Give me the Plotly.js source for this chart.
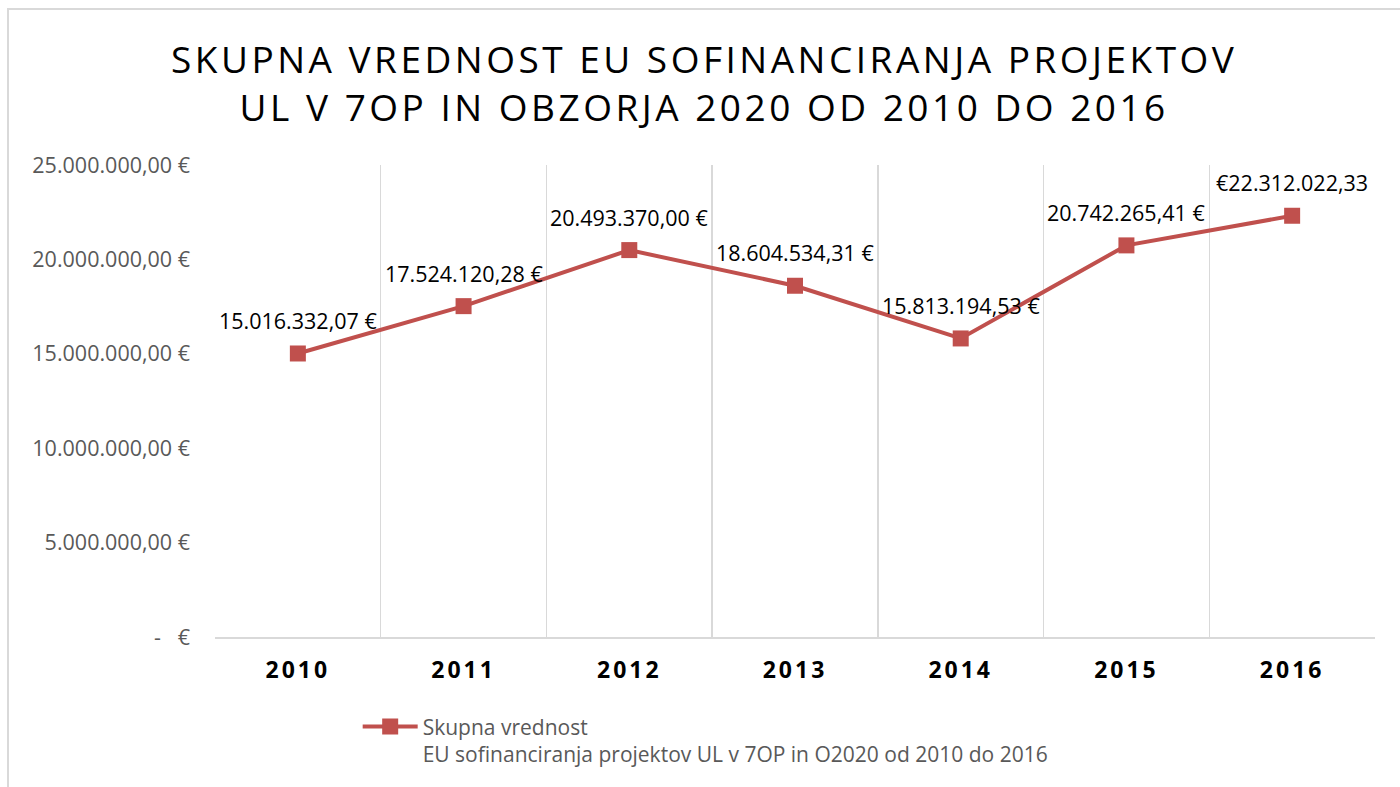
<!DOCTYPE html>
<html>
<head>
<meta charset="utf-8">
<script src="https://cdn.plot.ly/plotly-3.0.1.min.js"></script>
<style>
  html, body { margin: 0; padding: 0; background: #ffffff; }
  #frame { position: absolute; left: 7px; top: 8px; width: 1500px; height: 900px;
           border-left: 2px solid #d9d9d9; border-top: 2px solid #d9d9d9; }
  #chart { position: absolute; left: 0; top: 0; width: 1400px; height: 787px; }
  .gtitle { letter-spacing: 3.5px; }
  .xtick text { letter-spacing: 3px; }
</style>
</head>
<body>
<div id="frame"></div>
<div id="chart"></div>
<script>
const years = ['2010', '2011', '2012', '2013', '2014', '2015', '2016'];
const values = [15016332.07, 17524120.28, 20493370.00, 18604534.31, 15813194.53, 20742265.41, 22312022.33];
const valueLabels = ['15.016.332,07 €', '17.524.120,28 €', '20.493.370,00 €', '18.604.534,31 €', '15.813.194,53 €', '20.742.265,41 €', '€22.312.022,33'];
const yTickVals = [0, 5000000, 10000000, 15000000, 20000000, 25000000];
const yTickText = ['-\u00a0\u00a0\u00a0€', '5.000.000,00 €', '10.000.000,00 €', '15.000.000,00 €', '20.000.000,00 €', '25.000.000,00 €'];
const seriesName = 'Skupna vrednost<br>EU sofinanciranja projektov UL v 7OP in O2020 od 2010 do 2016';
const titleText = 'SKUPNA VREDNOST EU SOFINANCIRANJA PROJEKTOV<br>UL V 7OP IN OBZORJA 2020 OD 2010 DO 2016';

const lineColor = '#c0504d';
const fontFamily = '"Open Sans", sans-serif';

const trace = {
  type: 'scatter',
  mode: 'lines+markers',
  x: years,
  y: values,
  name: seriesName,
  line: { color: lineColor, width: 4 },
  marker: { symbol: 'square', size: 16, color: lineColor },
  showlegend: true,
  hoverinfo: 'skip'
};

// category index i corresponds to years[i]
const annotations = values.map((v, i) => ({
  x: i,
  y: v,
  xref: 'x',
  yref: 'y',
  text: valueLabels[i],
  showarrow: false,
  yshift: 33,
  font: { family: fontFamily, size: 21.5, color: '#000000' }
}));

const layout = {
  width: 1400,
  height: 787,
  paper_bgcolor: 'rgba(0,0,0,0)',
  plot_bgcolor: 'rgba(0,0,0,0)',
  margin: { l: 215, r: 25, t: 165, b: 150 },
  font: { family: fontFamily, color: '#595959' },
  title: {
    text: titleText,
    font: { family: fontFamily, size: 37, color: '#000000' },
    x: 0.503,
    xref: 'container',
    y: 0.907,
    yref: 'container',
    yanchor: 'top'
  },
  xaxis: {
    type: 'category',
    tickson: 'boundaries',
    showgrid: true,
    gridcolor: '#d9d9d9',
    gridwidth: 1.5,
    showline: true,
    linecolor: '#d9d9d9',
    linewidth: 2,
    ticks: '',
    tickfont: { family: fontFamily, size: 23, color: '#000000', weight: 'bold' },
    ticklabelstandoff: 11,
    range: [-0.5, 6.5],
    fixedrange: true
  },
  yaxis: {
    range: [0, 25000000],
    tickvals: yTickVals,
    ticktext: yTickText,
    showgrid: false,
    zeroline: false,
    showline: false,
    ticks: '',
    tickfont: { family: fontFamily, size: 21.5, color: '#595959' },
    ticklabelstandoff: 24,
    fixedrange: true
  },
  legend: {
    x: 0.123,
    y: -0.147,
    xanchor: 'left',
    yanchor: 'top',
    valign: 'top',
    orientation: 'v',
    itemwidth: 55,
    font: { family: fontFamily, size: 21, color: '#595959' },
    bgcolor: 'rgba(0,0,0,0)'
  },
  annotations: annotations
};

Plotly.newPlot('chart', [trace], layout, { displayModeBar: false, staticPlot: true });
</script>
</body>
</html>
